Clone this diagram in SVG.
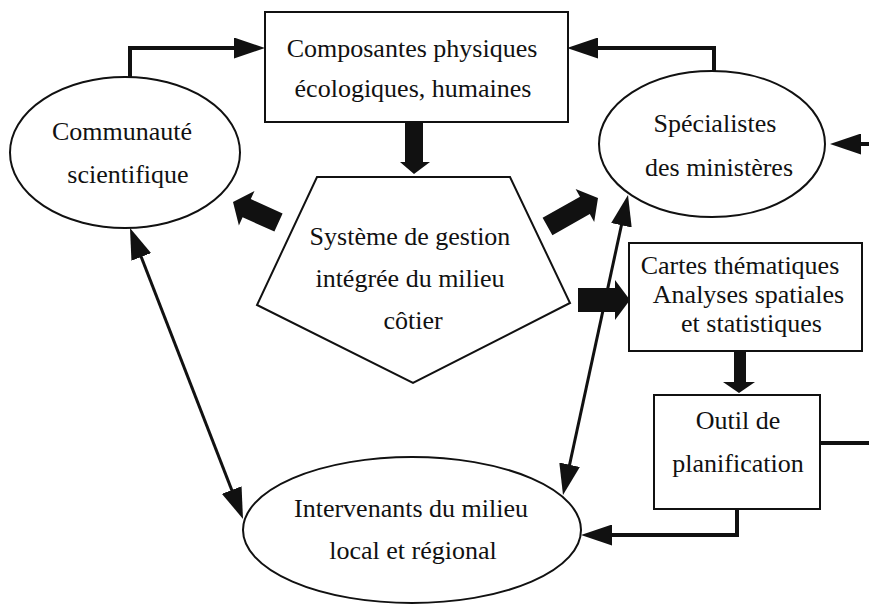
<svg xmlns="http://www.w3.org/2000/svg" width="869" height="604" viewBox="0 0 869 604">
<defs>
<style>
.shape{fill:#fff;stroke:#111;stroke-width:2}
.t{font-family:"Liberation Serif","Times New Roman",serif;font-size:26px;fill:#111;text-anchor:middle}
.c{fill:none;stroke:#111;stroke-width:4}
.d{fill:none;stroke:#111;stroke-width:3}
.blk{fill:#111;stroke:none}
</style>
<marker id="ah" viewBox="0 0 31 21" markerWidth="31" markerHeight="21" markerUnits="userSpaceOnUse" refX="23" refY="10.5" orient="auto-start-reverse">
<path d="M0,0 L31,10.5 L0,21 z" fill="#111"/>
</marker>
</defs>
<rect width="869" height="604" fill="#fff"/>

<g id="connectors">
<path class="c" d="M130,77 V48 H257" marker-end="url(#ah)"/>
<path class="c" d="M714,71 V48 H575" marker-end="url(#ah)"/>
<path class="c" d="M869,144 H838" marker-end="url(#ah)"/>
<path class="c" d="M820,443 H869"/>
<path class="c" d="M737,509 V535 H589" marker-end="url(#ah)"/>
<path class="d" d="M132.9,235.5 L240.1,511.5" marker-start="url(#ah)" marker-end="url(#ah)"/>
<path class="d" d="M626.3,202.8 L564.7,487.2" marker-start="url(#ah)" marker-end="url(#ah)"/>
<polygon class="blk" points="405,122 423,122 423,162 430,162 414,174 400,162 405,162"/>
<polygon class="blk" points="282.6,213.4 250.8,199.1 254.5,190.9 233,202 238.9,225.5 242.6,217.3 274.4,231.6"/>
<polygon class="blk" points="542.6,217.8 580,196.7 575.6,188.9 598,198 594.2,221.9 589.8,214.1 552.4,235.2"/>
<polygon class="blk" points="578,288 615,288 615,280 630,300 615,320 615,312 578,312"/>
<polygon class="blk" points="734,351 746,351 746,382 755,382 739,393 723,382 734,382"/>
</g>

<g id="composantes">
<rect class="shape" x="265" y="12" width="303" height="110"/>
<text class="t" x="412" y="57">Composantes physiques</text>
<text class="t" x="413" y="97">écologiques, humaines</text>
</g>

<g id="communaute">
<ellipse class="shape" cx="125" cy="152.5" rx="115" ry="75.5"/>
<text class="t" x="122" y="140">Communauté</text>
<text class="t" x="128" y="183">scientifique</text>
</g>

<g id="specialistes">
<ellipse class="shape" cx="712" cy="144" rx="113" ry="73"/>
<text class="t" x="715" y="132">Spécialistes</text>
<text class="t" x="719" y="176">des ministères</text>
</g>

<g id="systeme">
<polygon class="shape" points="317,177 510,177 570,303 413,383 257,305"/>
<text class="t" x="410" y="245">Système de gestion</text>
<text class="t" x="410" y="287">intégrée du milieu</text>
<text class="t" x="413" y="329">côtier</text>
</g>

<g id="cartes">
<rect class="shape" x="629" y="243" width="233" height="108"/>
<text class="t" x="740" y="274">Cartes thématiques</text>
<text class="t" x="748.5" y="303">Analyses spatiales</text>
<text class="t" x="751.5" y="332">et statistiques</text>
</g>

<g id="outil">
<rect class="shape" x="654" y="395" width="166" height="114"/>
<text class="t" x="738" y="429">Outil de</text>
<text class="t" x="738" y="472">planification</text>
</g>

<g id="intervenants">
<ellipse class="shape" cx="412" cy="530" rx="169" ry="73"/>
<text class="t" x="411" y="517">Intervenants du milieu</text>
<text class="t" x="413" y="559">local et régional</text>
</g>
</svg>
